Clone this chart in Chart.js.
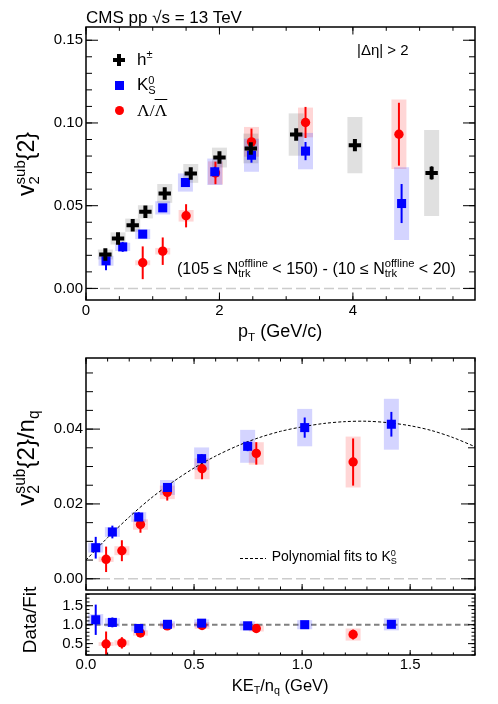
<!DOCTYPE html>
<html><head><meta charset="utf-8">
<script src="https://cdn.jsdelivr.net/npm/chart.js@4.4.1/dist/chart.umd.min.js"></script>
<style>
html,body{margin:0;padding:0;background:#fff;}
body{width:498px;height:704px;position:relative;overflow:hidden;font-family:"Liberation Sans",Arial,Helvetica,sans-serif;color:#000;}
canvas{position:absolute;left:0;}
.t{position:absolute;white-space:nowrap;line-height:1;z-index:5;}
.sub{position:relative;font-size:0.65em;top:0.32em;}
.sup{position:relative;font-size:0.65em;top:-0.6em;}
.z{display:inline-block;width:0;}
.rot{position:absolute;white-space:nowrap;line-height:1;transform:translate(-50%,-50%) rotate(-90deg);z-index:5;}
.mk{position:absolute;z-index:5;}
</style></head><body>
<canvas id="c1" width="498" height="330" style="top:0px"></canvas>
<canvas id="c2" width="498" height="272" style="top:330px"></canvas>
<canvas id="c3" width="498" height="122" style="top:582px"></canvas>

<div class="t" style="left:86px;top:8.5px;font-size:17px">CMS pp √s = 13 TeV</div>
<div class="t" style="left:357px;top:42.3px;font-size:15px">|Δη| &gt; 2</div>

<div class="mk" style="left:113px;top:58px;width:12px;height:4px;background:#000"></div>
<div class="mk" style="left:117px;top:54px;width:4px;height:12px;background:#000"></div>
<div class="mk" style="left:114.6px;top:80.6px;width:9px;height:9px;background:#0000ff"></div>
<div class="mk" style="left:114.5px;top:105.5px;width:9px;height:9px;border-radius:50%;background:#ff0000"></div>
<div class="t" style="left:137px;top:50.6px;font-size:17px">h<span class="sup">±</span></div>
<div class="t" style="left:137px;top:76.3px;font-size:17px">K<span class="z sub">S</span><span class="sup">0</span></div>
<div class="t" style="left:137px;top:101.8px;font-size:17.5px;font-family:'Liberation Serif',serif">Λ/<span style="text-decoration:overline">Λ</span></div>

<div class="t" style="left:177px;top:260.5px;font-size:16px">(105 ≤ N<span class="z sub" style="font-size:0.7em">trk</span><span class="sup" style="font-size:0.7em">offline</span> &lt; 150) - (10 ≤ N<span class="z sub" style="font-size:0.7em">trk</span><span class="sup" style="font-size:0.7em">offline</span> &lt; 20)</div>

<div class="t" style="left:238px;top:322px;font-size:18px">p<span class="sub">T</span> (GeV/c)</div>
<div class="rot" style="left:26px;top:164px;font-size:23px">v<span class="z sub">2</span><span class="sup">sub</span>{2}</div>
<div class="rot" style="left:26px;top:458px;font-size:24px">v<span class="z sub">2</span><span class="sup">sub</span>{2}/n<span class="sub">q</span></div>

<svg class="mk" style="left:240px;top:556px" width="26" height="5"><line x1="0" y1="2.5" x2="26" y2="2.5" stroke="#000" stroke-width="1" stroke-dasharray="3,2"/></svg>
<div class="t" style="left:271.7px;top:549px;font-size:14px">Polynomial fits to K<span class="z sub">S</span><span class="sup">0</span></div>

<div class="rot" style="left:28.5px;top:620px;font-size:19px">Data/Fit</div>
<div class="t" style="left:231.7px;top:676.5px;font-size:16.5px">KE<span class="sub">T</span>/n<span class="sub">q</span> (GeV)</div>

<script>
// ---------------- Top panel: v2sub{2} vs pT ----------------
const hPt   = [0.29, 0.48, 0.70, 0.89, 1.18, 1.57, 2.00, 2.47, 3.15, 4.03, 5.18];
const hV    = [0.0205, 0.0302, 0.0382, 0.0463, 0.0574, 0.0695, 0.0791, 0.0846, 0.0930, 0.0866, 0.0698];
const hStat = [0.0010, 0.0010, 0.0010, 0.0010, 0.0010, 0.0010, 0.0012, 0.0015, 0.0020, 0.0030, 0.0040];
const hSys  = [0.0030, 0.0037, 0.0040, 0.0040, 0.0057, 0.0057, 0.0060, 0.0090, 0.0128, 0.0170, 0.0260];

const kPt   = [0.30, 0.55, 0.85, 1.15, 1.49, 1.93, 2.48, 3.29, 4.73];
const kV    = [0.0167, 0.0251, 0.0328, 0.0487, 0.0640, 0.0705, 0.0805, 0.0830, 0.0513];
const kStat = [0.0057, 0.0030, 0.0020, 0.0020, 0.0020, 0.0030, 0.0045, 0.0055, 0.0118];
const kSys  = [0.0030, 0.0025, 0.0030, 0.0040, 0.0055, 0.0080, 0.0100, 0.0110, 0.0220];

const lPt   = [0.85, 1.15, 1.50, 1.94, 2.48, 3.29, 4.69];
const lV    = [0.0155, 0.0225, 0.0439, 0.0698, 0.0886, 0.1003, 0.0932];
const lStat = [0.0099, 0.0083, 0.0070, 0.0068, 0.0080, 0.0094, 0.0190];
const lSys  = [0.0015, 0.0020, 0.0035, 0.0070, 0.0090, 0.0090, 0.0210];

const topXTicks = [0, 2, 4];
const topYTicks = [0, 0.05, 0.10, 0.15];

// ---------------- Middle panel: v2sub{2}/nq vs KET/nq ----------------
const kKE      = [0.045, 0.122, 0.244, 0.377, 0.535, 0.748, 1.012, 1.413];
const kVn      = [0.0083, 0.0125, 0.0165, 0.0244, 0.0321, 0.0354, 0.0404, 0.0413];
const kVnStat  = [0.0029, 0.0017, 0.0013, 0.0012, 0.0012, 0.0013, 0.0027, 0.0033];
const kVnSys   = [0.0013, 0.0013, 0.0013, 0.0020, 0.0030, 0.0044, 0.0050, 0.0068];

const lKE      = [0.093, 0.166, 0.252, 0.376, 0.537, 0.788, 1.236];
const lVn      = [0.0052, 0.0075, 0.0145, 0.0231, 0.0294, 0.0335, 0.0312];
const lVnStat  = [0.0034, 0.0028, 0.0022, 0.0022, 0.0028, 0.0030, 0.0063];
const lVnSys   = [0.0007, 0.0012, 0.0014, 0.0018, 0.0028, 0.0030, 0.0068];

// dashed polynomial fit to K0S
const fitKE = [0.0, 0.1, 0.2, 0.3, 0.4, 0.5, 0.6, 0.7, 0.8, 0.9, 1.0, 1.1, 1.2, 1.3, 1.4, 1.5, 1.6, 1.7, 1.8];
const fitV  = [0.0050, 0.0110, 0.0165, 0.0215, 0.0258, 0.0296, 0.0328, 0.0355, 0.0377, 0.0394, 0.0406, 0.0415, 0.0420, 0.0421, 0.0417, 0.0409, 0.0396, 0.0377, 0.0353];

const midYTicks = [0, 0.02, 0.04];
const keXTicks  = [0, 0.5, 1.0, 1.5];

// ---------------- Bottom panel: Data/Fit ----------------
const kRatio     = [1.13, 1.06, 0.90, 1.01, 1.04, 0.97, 1.00, 1.01];
const kRatioStat = [0.40, 0.13, 0.07, 0.05, 0.04, 0.04, 0.07, 0.08];
const kRatioSys  = [0.15, 0.11, 0.08, 0.08, 0.10, 0.12, 0.12, 0.16];
const lRatio     = [0.49, 0.52, 0.78, 0.97, 0.98, 0.90, 0.74];
const lRatioStat = [0.33, 0.15, 0.07, 0.07, 0.07, 0.06, 0.13];
const lRatioSys  = [0.05, 0.07, 0.07, 0.07, 0.09, 0.08, 0.16];
const ratioYTicks = [0.5, 1.0, 1.5];

// ---------------- helpers ----------------
const FONT = "'Liberation Sans', Arial, Helvetica, sans-serif";
const GRAYBOX = 'rgba(0,0,0,0.12)', BLUEBOX = 'rgba(0,0,255,0.17)', REDBOX = 'rgba(255,0,0,0.16)';

function boxes(xs, ys, es, color) {
  return {type:'bar', data: xs.map((x,i)=>({x:x, y:[ys[i]-es[i], ys[i]+es[i]]})),
    backgroundColor: color, borderWidth:0, barThickness:15, grouped:false, order:6, inflateAmount:0};
}
function errs(xs, ys, es, color) {
  return {type:'bar', data: xs.map((x,i)=>({x:x, y:[ys[i]-es[i], ys[i]+es[i]]})),
    backgroundColor: color, borderWidth:0, barThickness:2, grouped:false, order:3, inflateAmount:0};
}
function marks(xs, ys, style, color, r) {
  return {type:'scatter', data: xs.map((x,i)=>({x:x, y:ys[i]})), pointStyle: style,
    pointRadius:r, pointHoverRadius:r, backgroundColor: color, borderColor: color,
    borderWidth: style==='cross' ? 4 : 0, order:1};
}
function hline(x0, x1, yv, color, w, dash) {
  return {type:'line', data:[{x:x0,y:yv},{x:x1,y:yv}], borderColor:color, borderWidth:w,
    borderDash:dash, pointRadius:0, fill:false, order:9};
}

const framePlugin = {
  id:'frame',
  afterDatasetsDraw(chart, args, o) {
    const {ctx, chartArea:a, scales} = chart; const x = scales.x, y = scales.y;
    ctx.save(); ctx.strokeStyle = '#000'; ctx.lineWidth = 1;
    function loop(sc, step, fn) {
      const n0 = Math.ceil(sc.min/step - 1e-6), n1 = Math.floor(sc.max/step + 1e-6);
      for (let n=n0; n<=n1; n++) fn(sc.getPixelForValue(n*step));
    }
    ctx.beginPath();
    const xt = (len, top) => p => { ctx.moveTo(p, a.bottom); ctx.lineTo(p, a.bottom-len); if (top) { ctx.moveTo(p, a.top); ctx.lineTo(p, a.top+len); } };
    const yt = (len) => p => { ctx.moveTo(a.left, p); ctx.lineTo(a.left+len, p); ctx.moveTo(a.right, p); ctx.lineTo(a.right-len, p); };
    loop(x, o.xMinor, xt(o.xMinLen, o.topTicks));
    loop(x, o.xMajor, xt(o.xMajLen, o.topTicks));
    loop(y, o.yMinor, yt(o.yMinLen));
    loop(y, o.yMajor, yt(o.yMajLen));
    ctx.stroke();
    ctx.lineWidth = 1.5;
    ctx.strokeRect(a.left, a.top, a.right-a.left, a.bottom-a.top);
    ctx.restore();
  }
};

function makeChart(id, p) {
  return new Chart(document.getElementById(id), {
    type:'scatter',
    data:{datasets:p.datasets},
    plugins:[framePlugin],
    options:{
      responsive:false, animation:false, events:[],
      layout:{padding:{left:0, right:23, top:p.padTop, bottom:p.padBottom}},
      plugins:{legend:{display:false}, tooltip:{enabled:false}, frame:p.frame},
      scales:{
        x:{type:'linear', position:'bottom', min:p.xMin, max:p.xMax, offset:false,
           afterBuildTicks: s => { s.ticks = p.xTicks.map(v=>({value:v})); },
           afterFit: s => { s.height = p.xAxisH; },
           grid:{display:false, drawTicks:false}, border:{display:false},
           ticks:{display:p.showX, autoSkip:false, maxRotation:0, padding:p.xPad, color:'#000',
                  font:{family:FONT, size:15}, callback: v => p.xFmt(v)}},
        y:{type:'linear', position:'left', min:p.yMin, max:p.yMax,
           afterBuildTicks: s => { s.ticks = p.yTicks.map(v=>({value:v})); },
           afterFit: s => { s.width = 86; },
           grid:{display:false, drawTicks:false}, border:{display:false},
           ticks:{autoSkip:false, padding:3, color:'#000', font:{family:FONT, size:15}, callback: v => p.yFmt(v)}}
      }
    }
  });
}

// Top chart
makeChart('c1', {
  padTop:27, padBottom:0, xAxisH:30, xPad:2, showX:true,
  xMin:0, xMax:5.83, yMin:-0.007, yMax:0.158, xTicks:topXTicks, yTicks:topYTicks,
  xFmt: v => v.toFixed(0), yFmt: v => v.toFixed(2),
  frame:{xMajor:2, xMinor:0.5, yMajor:0.05, yMinor:0.01, xMajLen:7.5, xMinLen:3.8, yMajLen:12, yMinLen:6, topTicks:true},
  datasets:[
    hline(0, 5.83, 0, '#cccccc', 1.5, [10,4]),
    boxes(hPt, hV, hSys, GRAYBOX),
    boxes(kPt, kV, kSys, BLUEBOX),
    boxes(lPt, lV, lSys, REDBOX),
    errs(hPt, hV, hStat, '#000000'),
    errs(kPt, kV, kStat, '#0000ff'),
    errs(lPt, lV, lStat, '#ff0000'),
    marks(hPt, hV, 'cross', '#000000', 6.2),
    marks(kPt, kV, 'rect', '#0000ff', 6.4),
    marks(lPt, lV, 'circle', '#ff0000', 4.7)
  ]
});

// Middle chart
makeChart('c2', {
  padTop:28, padBottom:10, xAxisH:0, xPad:0, showX:false,
  xMin:0, xMax:1.8, yMin:-0.003, yMax:0.059, xTicks:keXTicks, yTicks:midYTicks,
  xFmt: v => v.toFixed(1), yFmt: v => v.toFixed(2),
  frame:{xMajor:0.5, xMinor:0.1, yMajor:0.02, yMinor:0.005, xMajLen:6, xMinLen:3.5, yMajLen:14, yMinLen:7, topTicks:true},
  datasets:[
    hline(0, 1.8, 0, '#cccccc', 1.5, [10,4]),
    {type:'line', data: fitKE.map((x,i)=>({x:x, y:fitV[i]})), borderColor:'#000', borderWidth:1,
     borderDash:[3,2], pointRadius:0, fill:false, tension:0.3, order:2},
    boxes(kKE, kVn, kVnSys, BLUEBOX),
    boxes(lKE, lVn, lVnSys, REDBOX),
    errs(kKE, kVn, kVnStat, '#0000ff'),
    errs(lKE, lVn, lVnStat, '#ff0000'),
    marks(kKE, kVn, 'rect', '#0000ff', 6.4),
    marks(lKE, lVn, 'circle', '#ff0000', 4.7)
  ]
});

// Bottom chart
makeChart('c3', {
  padTop:10, padBottom:0, xAxisH:49, xPad:1, showX:true,
  xMin:0, xMax:1.8, yMin:0.2, yMax:1.81, xTicks:keXTicks, yTicks:ratioYTicks,
  xFmt: v => v.toFixed(1), yFmt: v => v.toFixed(1),
  frame:{xMajor:0.5, xMinor:0.1, yMajor:0.5, yMinor:0.1, xMajLen:5, xMinLen:2.5, yMajLen:7, yMinLen:3.5, topTicks:false},
  datasets:[
    hline(0, 1.8, 1.0, '#808080', 2, [5.5,3.5]),
    boxes(kKE, kRatio, kRatioSys, BLUEBOX),
    boxes(lKE, lRatio, lRatioSys, REDBOX),
    errs(kKE, kRatio, kRatioStat, '#0000ff'),
    errs(lKE, lRatio, lRatioStat, '#ff0000'),
    marks(kKE, kRatio, 'rect', '#0000ff', 6.4),
    marks(lKE, lRatio, 'circle', '#ff0000', 4.7)
  ]
});
</script>
</body></html>
